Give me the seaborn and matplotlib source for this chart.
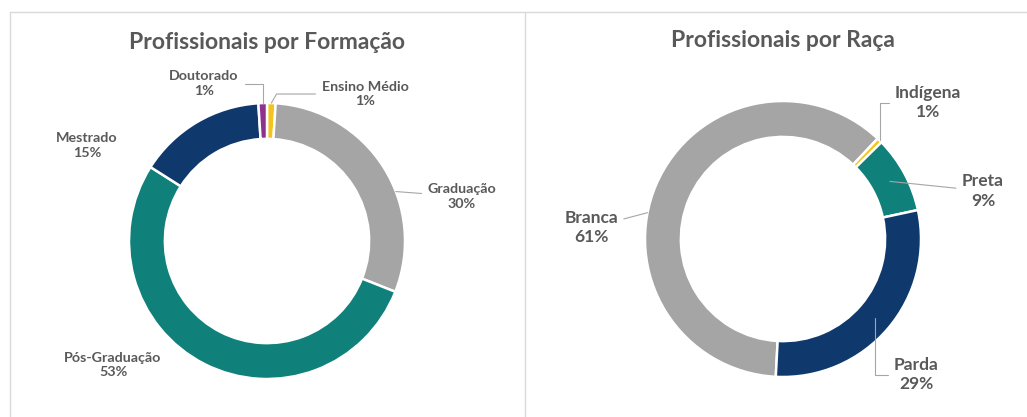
import numpy as np
import seaborn as sns
import matplotlib.pyplot as plt

sns.set_theme(style="white")
plt.rcParams['font.family'] = ['Lato', 'DejaVu Sans']

# dados
form_labels = ['Ensino Médio', 'Graduação', 'Pós-Graduação', 'Mestrado', 'Doutorado']
form_values = [1, 30, 53, 15, 1]
form_colors = ['#F4C320', '#A5A5A5', '#10817A', '#0F386C', '#8E3290']

raca_labels = ['Branca', 'Indígena', 'Preta', 'Parda']
raca_values = [61.2, 0.6, 9.0, 29.2]
raca_colors = ['#A5A5A5', '#F4C320', '#10817A', '#0F386C']

TXT = '#595959'
LINE = '#A6A6A6'
R = 138.0  # raio em px
W, H = 1027.0, 417.0
TOP, BOT = 12.0, 417.0


def painel(fig, x0, x1):
    return fig.add_axes([x0 / W, 1 - BOT / H, (x1 - x0) / W, (BOT - TOP) / H])


def limites(ax, x0, x1, cx, cy):
    # 1 unidade = raio do donut
    ax.set_xlim((x0 - cx) / R, (x1 - cx) / R)
    ax.set_ylim((cy - BOT) / R, (cy - TOP) / R)
    ax.set_aspect('equal', adjustable='datalim')
    ax.axis('off')


def donut(ax, labels, values, colors, start, pos, leaders, fs, title):
    wedges, _ = ax.pie(values, colors=colors, startangle=start, counterclock=False,
                       radius=1, wedgeprops=dict(width=0.26, edgecolor='white', linewidth=1.8))
    total = sum(values)
    for w, lab, v in zip(wedges, labels, values):
        txt = '{}\n{:.0f}%'.format(lab, v / total * 100)
        tx, ty = pos[lab]
        if lab in leaders:
            r, a, cs = leaders[lab]
            if a is None:
                a = (w.theta1 + w.theta2) / 2
            ang = np.deg2rad(a)
            ax.annotate(txt, xy=(r * np.cos(ang), r * np.sin(ang)), xytext=(tx, ty),
                        ha='center', va='center', fontsize=fs, fontweight='bold', color=TXT,
                        linespacing=1.25,
                        arrowprops=dict(arrowstyle='-', color=LINE, lw=0.8, shrinkA=2, shrinkB=0,
                                        connectionstyle=cs))
        else:
            ax.text(tx, ty, txt, ha='center', va='center', fontsize=fs, fontweight='bold',
                    color=TXT, linespacing=1.25)
    ax.text(0, 1.44, title, ha='center', va='center', fontsize=16.5, fontweight='bold', color=TXT)


fig = plt.figure(figsize=(10.27, 4.17), dpi=100)

# bordas dos paineis
fig.add_artist(plt.Line2D([10 / W, 1], [1 - TOP / H] * 2, color='#D9D9D9', lw=1))
fig.add_artist(plt.Line2D([10 / W] * 2, [0, 1 - TOP / H], color='#D9D9D9', lw=1))
fig.add_artist(plt.Line2D([525 / W] * 2, [0, 1 - TOP / H], color='#D9D9D9', lw=1))

ax1 = painel(fig, 11, 524)
pos1 = {'Ensino Médio': (0.71, 1.065), 'Graduação': (1.413, 0.322), 'Pós-Graduação': (-1.116, -0.899),
        'Mestrado': (-1.304, 0.692), 'Doutorado': (-0.457, 1.141)}
lead1 = {'Doutorado': (1.0, None, 'angle,angleA=0,angleB=90,rad=0'),
         'Ensino Médio': (1.0, None, 'angle,angleA=0,angleB=60,rad=0'),
         'Graduação': (1.0, 21, 'arc3,rad=0')}
donut(ax1, form_labels, form_values, form_colors, 90, pos1, lead1, 10.3, 'Profissionais por Formação')
limites(ax1, 11, 524, 267, 241)

ax2 = painel(fig, 526, 1027)
pos2 = {'Branca': (-1.391, 0.083), 'Indígena': (1.051, 0.989), 'Preta': (1.449, 0.348),
        'Parda': (0.964, -0.982)}
lead2 = {'Branca': (1.0, 169, 'arc3,rad=0'),
         'Indígena': (1.0, None, 'angle,angleA=0,angleB=90,rad=0'),
         'Preta': (0.88, None, 'arc3,rad=0'),
         'Parda': (0.88, None, 'angle,angleA=0,angleB=90,rad=0')}
donut(ax2, raca_labels, raca_values, raca_colors, -93, pos2, lead2, 12.5, 'Profissionais por Raça')
limites(ax2, 526, 1027, 783, 239)

fig.savefig('out.png', dpi=100, facecolor='white')
